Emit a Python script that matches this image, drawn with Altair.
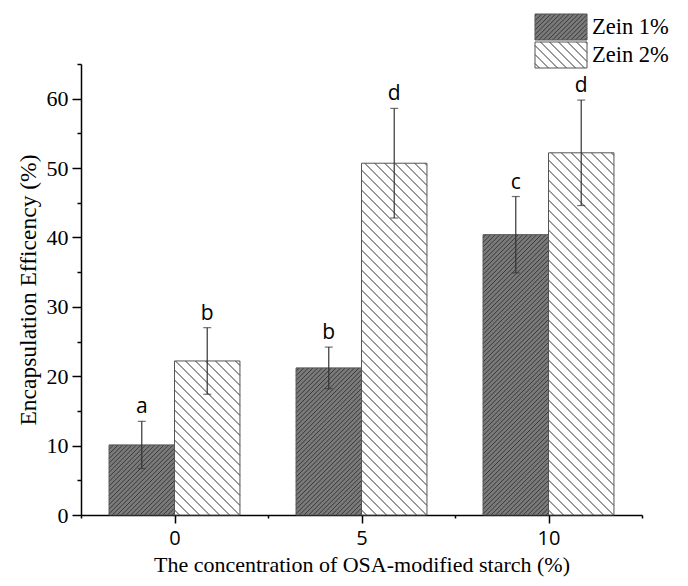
import altair as alt
import pandas as pd
import numpy as np

# ---- data ----
conc = [0, 5, 10]
series = ["Zein 1%", "Zein 2%"]
zein1 = [10.1, 21.2, 40.4]
zein1_err = [3.4, 3.0, 5.5]
zein2 = [22.2, 50.7, 52.2]
zein2_err = [4.8, 7.9, 7.6]
letters1 = ["a", "b", "c"]
letters2 = ["b", "d", "d"]

# ---- layout ----
W, H = 561, 451
XDOM = [-2.5, 12.5]
YDOM = [0, 65]
BW = 1.75  # bar width in x units
pxX = W / (XDOM[1] - XDOM[0])
pxY = H / (YDOM[1] - YDOM[0])

FILL1 = "#7a7a7a"
LINE1 = "#383838"
LINE2 = "#333333"

rows = []
for i, c in enumerate(conc):
    rows.append(dict(series=series[0], x0=c - BW, x1=c, xc=c - BW / 2, v=zein1[i],
                     lo=zein1[i] - zein1_err[i], hi=zein1[i] + zein1_err[i], letter=letters1[i]))
    rows.append(dict(series=series[1], x0=c, x1=c + BW, xc=c + BW / 2, v=zein2[i],
                     lo=zein2[i] - zein2_err[i], hi=zein2[i] + zein2_err[i], letter=letters2[i]))
bars = pd.DataFrame(rows)


def hatch_local(w, h, step, forward):
    """diagonal segments inside a w x h box (y up), returns list of (X1,Y1,X2,Y2)"""
    segs = []
    for k in np.arange(-w + step * 0.5, h, step):
        xs = max(0.0, -k)
        xe = min(w, h - k)
        if xe - xs < 0.3:
            continue
        ys, ye = xs + k, xe + k
        if forward:
            segs.append((xs, ys, xe, ye))
        else:
            segs.append((w - xs, ys, w - xe, ye))
    return segs


hrows = []
for _, r in bars.iterrows():
    w = (r.x1 - r.x0) * pxX
    h = r.v * pxY
    fwd = r.series == series[0]
    step = 4.6 if fwd else 10.0
    for (a, b, c2, d) in hatch_local(w, h, step, fwd):
        hrows.append(dict(series=r.series, hx=r.x0 + a / pxX, hy=b / pxY,
                          hx2=r.x0 + c2 / pxX, hy2=d / pxY))
hatch = pd.DataFrame(hrows)

xaxis = alt.Axis(
    title="The concentration of OSA-modified starch (%)",
    values=[-2.5, 0, 2.5, 5, 7.5, 10, 12.5],
    labelExpr="datum.value % 5 === 0 ? datum.label : ''",
    labelFont="Open Sans", labelFontSize=20, labelColor="#000",
    labelPadding=5,
    tickSize={"condition": {"test": "datum.value % 5 === 0", "value": 8}, "value": 3},
    titleFont="Liberation Serif", titleFontSize=22, titleFontWeight="normal",
    titleColor="#000", titlePadding=6, grid=False,
)
yaxis = alt.Axis(
    title="Encapsulation Efficency (%)",
    values=list(range(0, 70, 5)),
    labelExpr="datum.value % 10 === 0 ? datum.label : ''",
    labelFont="Liberation Serif", labelFontSize=22, labelColor="#000",
    labelPadding=4,
    tickSize={"condition": {"test": "datum.value % 10 === 0", "value": 9}, "value": 4},
    titleFont="Liberation Serif", titleFontSize=23.5, titleFontWeight="normal",
    titleColor="#000", titlePadding=6, grid=False,
)
xs = alt.Scale(domain=XDOM, nice=False, zero=False)
ys = alt.Scale(domain=YDOM, nice=False)
color = alt.Color("series:N", scale=alt.Scale(domain=series, range=[FILL1, "#ffffff"]), legend=None)

base = alt.Chart(bars)

bar_fill = base.mark_rect(strokeWidth=0).encode(
    x=alt.X("x0:Q", scale=xs, axis=xaxis), x2="x1:Q",
    y=alt.Y("v:Q", scale=ys, axis=yaxis), y2=alt.datum(0),
    color=color,
)

hatch_layer = alt.Chart(hatch).mark_rule(strokeWidth=1).encode(
    x=alt.X("hx:Q", scale=xs, axis=xaxis), x2="hx2:Q",
    y=alt.Y("hy:Q", scale=ys, axis=yaxis), y2="hy2:Q",
    color=alt.Color("series:N", scale=alt.Scale(domain=series, range=[LINE1, LINE2]), legend=None),
)

bar_outline = base.mark_rect(fillOpacity=0, stroke="#555555", strokeWidth=1).encode(
    x=alt.X("x0:Q", scale=xs, axis=xaxis), x2="x1:Q",
    y=alt.Y("v:Q", scale=ys, axis=yaxis), y2=alt.datum(0),
)

err_rule = base.mark_rule(color="#333333", strokeWidth=1.2).encode(
    x=alt.X("xc:Q", scale=xs, axis=xaxis),
    y=alt.Y("lo:Q", scale=ys, axis=yaxis), y2="hi:Q",
)
cap_hi = base.mark_tick(orient="horizontal", size=8, thickness=1.2, color="#333333").encode(
    x=alt.X("xc:Q", scale=xs, axis=xaxis),
    y=alt.Y("hi:Q", scale=ys, axis=yaxis),
)
cap_lo = base.mark_tick(orient="horizontal", size=8, thickness=1.2, color="#333333").encode(
    x=alt.X("xc:Q", scale=xs, axis=xaxis),
    y=alt.Y("lo:Q", scale=ys, axis=yaxis),
)
letters = base.mark_text(font="Open Sans", fontSize=21, color="#000", baseline="alphabetic",
                         dy=-8).encode(
    x=alt.X("xc:Q", scale=xs, axis=xaxis),
    y=alt.Y("hi:Q", scale=ys, axis=yaxis),
    text="letter:N",
)

# ---- hand-made legend (pixel space) ----
LX0, LX1 = 454, 506
leg_boxes = pd.DataFrame([
    dict(series=series[0], lx=LX0, lx2=LX1, ly=-50, ly2=-24, ty=-37),
    dict(series=series[1], lx=LX0, lx2=LX1, ly=-22, ly2=4, ty=-9),
])
lh = []
for _, r in leg_boxes.iterrows():
    w = r.lx2 - r.lx
    h = r.ly2 - r.ly
    fwd = r.series == series[0]
    step = 4.6 if fwd else 9.0
    for (a, b, c2, d) in hatch_local(w, h, step, fwd):
        lh.append(dict(series=r.series, px=r.lx + a, py=r.ly2 - b, px2=r.lx + c2, py2=r.ly2 - d))
leg_hatch = pd.DataFrame(lh)

leg_fill = alt.Chart(leg_boxes).mark_rect(strokeWidth=0).encode(
    x=alt.X("lx:Q", scale=None), x2="lx2:Q",
    y=alt.Y("ly:Q", scale=None), y2="ly2:Q",
    color=color,
)
leg_lines = alt.Chart(leg_hatch).mark_rule(strokeWidth=1).encode(
    x=alt.X("px:Q", scale=None), x2="px2:Q",
    y=alt.Y("py:Q", scale=None), y2="py2:Q",
    color=alt.Color("series:N", scale=alt.Scale(domain=series, range=[LINE1, LINE2]), legend=None),
)
leg_out = alt.Chart(leg_boxes).mark_rect(fillOpacity=0, stroke="#555555", strokeWidth=1).encode(
    x=alt.X("lx:Q", scale=None), x2="lx2:Q",
    y=alt.Y("ly:Q", scale=None), y2="ly2:Q",
)
leg_text = alt.Chart(leg_boxes).mark_text(font="Liberation Serif", fontSize=22.5, color="#000",
                                          align="left", baseline="middle").encode(
    x=alt.value(LX1 + 5),
    y=alt.Y("ty:Q", scale=None),
    text="series:N",
)

chart = alt.layer(
    bar_fill, hatch_layer, bar_outline, err_rule, cap_hi, cap_lo, letters,
    leg_fill, leg_lines, leg_out, leg_text,
).resolve_scale(color="independent").properties(
    width=W, height=H,
    autosize=alt.AutoSizeParams(type="none"),
    padding={"left": 73, "top": 56, "right": 38, "bottom": 69},
    background="white",
).configure_view(stroke=None).configure_axis(
    domainColor="#000", domainWidth=1.5, tickColor="#000", tickWidth=1.5,
)

chart.save("out.html", embed_options={"renderer": "svg", "actions": False})
